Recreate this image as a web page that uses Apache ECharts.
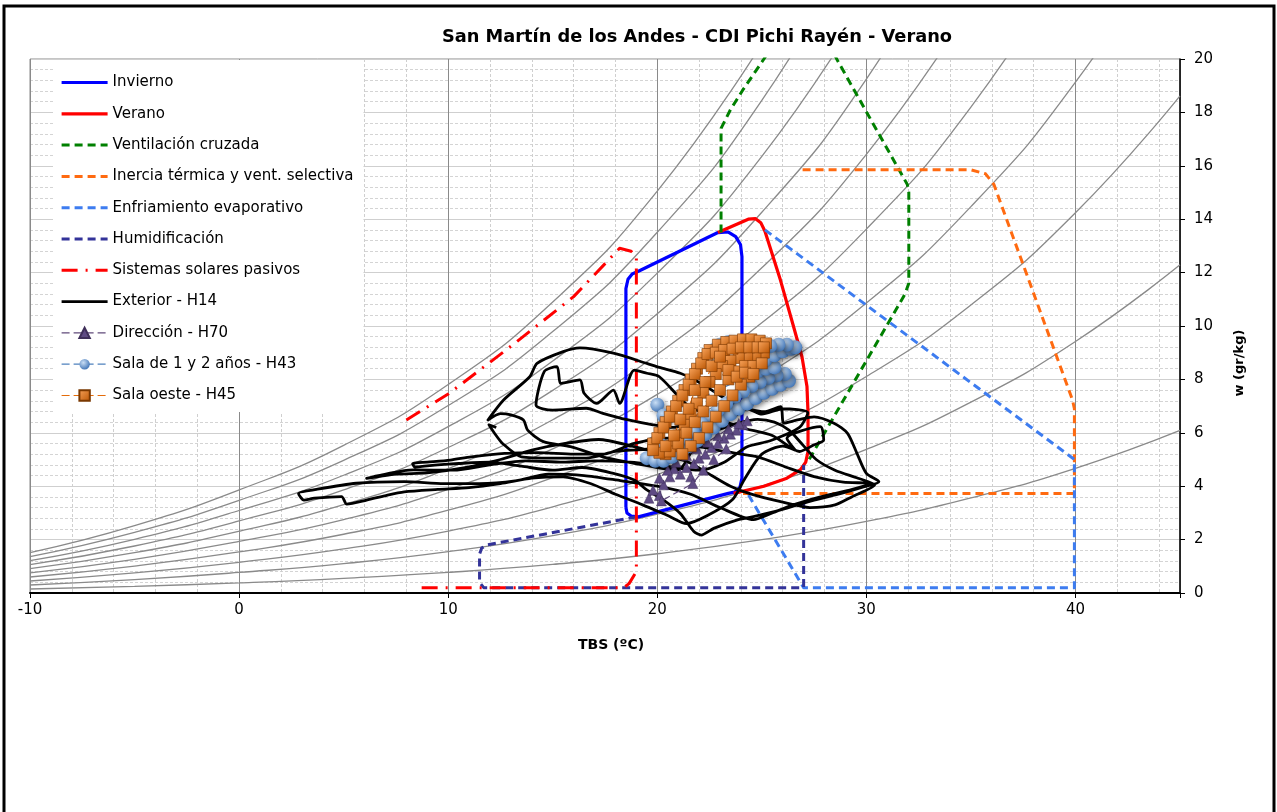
<!DOCTYPE html>
<html>
<head>
<meta charset="utf-8">
<script src="https://cdn.jsdelivr.net/npm/echarts@6/dist/echarts.min.js"></script>
<style>
  html, body { margin: 0; padding: 0; background: #fff; }
  #chart { width: 1277px; height: 812px; }
</style>
</head>
<body>
<div id="chart"></div>
<script>
// curvas de humedad relativa (10% ... 100%), w en gr/kg
const rhTemps = [-10, -5, 0, 5, 10, 15, 20, 25, 30, 35, 40, 45]
const rh10 = [0.15, 0.25, 0.38, 0.55, 0.77, 1.07, 1.47, 2.00, 2.68, 3.56, 4.67, 6.09]
const rh20 = [0.30, 0.50, 0.77, 1.10, 1.55, 2.15, 2.95, 4.01, 5.38, 7.15, 9.42, 12.29]
const rh30 = [0.45, 0.75, 1.15, 1.65, 2.32, 3.23, 4.44, 6.03, 8.11, 10.79, 14.24, 18.62]
const rh40 = [0.60, 1.01, 1.54, 2.20, 3.10, 4.32, 5.93, 8.07, 10.86, 14.47, 19.13, 25.08]
const rh50 = [0.75, 1.26, 1.93, 2.75, 3.88, 5.40, 7.44, 10.12, 13.63, 18.20, 24.09]
const rh60 = [0.91, 1.51, 2.31, 3.31, 4.66, 6.49, 8.94, 12.18, 16.43, 21.97]
const rh70 = [1.06, 1.76, 2.70, 3.86, 5.45, 7.59, 10.46, 14.26, 19.25, 25.78]
const rh80 = [1.21, 2.01, 3.09, 4.41, 6.23, 8.69, 11.98, 16.35, 22.10]
const rh90 = [1.36, 2.27, 3.47, 4.97, 7.02, 9.79, 13.51, 18.45, 24.97]
const rh100 = [1.51, 2.52, 3.86, 5.53, 7.81, 10.90, 15.05, 20.57]
const rhCurves = [rh10, rh20, rh30, rh40, rh50, rh60, rh70, rh80, rh90, rh100]

// zonas de confort y estrategias [TBS, w]
const invierno = [[18.5,3.2],[18.5,11.4],[18.6,11.75],[18.8,11.95],[19.1,12.05],[22.9,13.5],[23.4,13.52],[23.75,13.35],[23.98,13.05],[24.05,12.6],[24.05,4.3],[23.95,3.95],[23.7,3.78],[23.4,3.73],[19.1,2.85],[18.75,2.88],[18.55,3.0],[18.5,3.2]]
const verano = [[22.9,13.5],[24.35,14.0],[24.7,14.02],[24.95,13.87],[25.15,13.55],[25.89,11.72],[26.52,9.97],[26.92,8.85],[27.16,7.73],[27.21,6.73],[27.21,5.3],[27.1,4.9],[26.85,4.62],[26.2,4.3],[25.1,4.0],[23.65,3.73]]
const ventilacion = [[23.05,13.5],[23.05,17.4],[23.5,18.1],[24.1,18.85],[25.1,20],[25.9,21],[28,21],[28.58,20],[30.06,17.94],[31.96,15.3],[32.03,15.0],[32.03,11.6],[31.85,11.2],[27.16,4.86]]
const inercia = [[26.95,15.85],[35.0,15.85],[35.7,15.7],[36.1,15.3],[39.85,7.25],[39.95,6.9],[39.95,3.73],[24.1,3.73]]
const enfriamiento = [[25.15,13.6],[39.95,5.0],[39.95,0.2],[27.0,0.2],[24.3,3.75]]
const humidificacion = [[19.0,2.85],[11.85,1.8],[11.6,1.68],[11.5,1.45],[11.5,0.4],[11.7,0.2],[27.0,0.2],[27.0,4.8]]
const solares = [[8.0,6.48],[10.0,7.45],[13.1,9.3],[16.0,11.1],[18.2,12.91],[18.75,12.8],[19.0,12.6],[19.0,0.8],[18.65,0.35],[18.4,0.2],[8.4,0.2]]

// mediciones [TBS, w]
const exterior = [[22.0,5.5],[20.5,5.8],[18.9,5.6],[17.4,5.2],[16.0,5.2],[14.3,5.26],[12.7,5.23],[11.1,5.1],[10.1,4.98],[9.0,4.9],[8.3,4.85],[8.4,4.72],[9.5,4.8],[10.5,4.85],[12.0,4.9],[13.5,4.75],[15.0,4.6],[16.4,4.7],[17.9,4.48],[18.9,4.23],[19.5,3.86],[20.3,3.48],[21.1,2.98],[21.75,2.3],[22.1,2.17],[22.7,2.42],[23.8,2.73],[24.6,2.86],[25.9,3.11],[27.5,3.48],[28.8,3.73],[29.9,3.98],[30.6,4.17],[30.0,4.48],[29.55,5.23],[29.1,5.98],[28.45,6.36],[27.5,6.6],[26.7,6.48],[26.05,6.36],[25.9,6.98],[25.1,6.79],[24.0,6.98],[23.0,7.4],[22.1,7.85],[21.1,8.23],[20.1,8.45],[19.5,8.6],[17.9,8.98],[16.3,9.18],[15.5,9.04],[14.25,8.6],[13.9,8.1],[12.65,7.23],[11.9,6.48],[12.5,6.72],[13.0,6.67],[13.6,6.48],[13.8,6.1],[14.55,5.67],[15.85,5.48],[17.4,5.1],[18.6,4.9],[20.0,4.7],[21.0,4.6],[21.9,5.48],[23.2,5.3],[24.8,5.1],[26.2,4.7],[27.5,4.36],[28.9,4.15],[30.2,4.1],[29.2,3.85],[27.8,3.6],[26.5,3.3],[25.5,3.0],[24.6,2.75],[23.0,3.2],[21.6,3.7],[20.0,4.0],[18.3,4.2],[16.5,4.4],[14.8,4.45],[13.2,4.2],[11.5,4.1],[9.8,4.1],[7.9,4.17],[5.6,4.11],[3.7,3.88],[2.84,3.73],[3.1,3.48],[3.6,3.55],[4.9,3.61],[5.15,3.33],[6.1,3.48],[7.1,3.67],[7.9,3.79],[9.5,3.88],[11.0,3.95],[12.5,4.1],[14.0,4.3],[15.5,4.35],[16.8,4.1],[18.0,3.7],[19.3,3.3],[20.5,2.9],[21.4,2.6],[22.4,2.9],[23.6,3.5],[24.2,4.3],[25.0,5.2],[26.0,5.5],[26.6,5.35],[26.2,5.8],[27.8,6.23],[27.96,5.73],[27.5,5.55],[26.8,5.3],[25.5,5.9],[24.0,6.2],[22.7,6.6],[21.5,7.0],[20.1,8.1],[19.5,8.23],[18.9,8.35],[18.2,7.1],[17.9,7.6],[17.1,7.1],[16.5,7.48],[16.3,7.98],[15.4,7.85],[15.2,8.48],[14.6,8.3],[14.2,7.04],[15.0,6.85],[16.6,6.92],[17.4,6.73],[18.5,6.5],[19.8,6.3],[20.8,6.2],[21.6,6.4],[22.8,6.7],[23.5,6.55],[24.3,6.9],[25.0,6.7],[26.0,6.9],[27.2,6.75],[26.8,6.2],[25.4,5.7],[24.3,5.48],[23.2,4.9],[22.0,4.6],[20.4,4.75],[18.7,4.9],[17.0,4.95],[15.5,4.9],[13.7,4.95],[12.0,4.8],[10.25,4.6],[8.34,4.61],[6.6,4.39],[6.1,4.29],[7.5,4.45],[9.0,4.5],[10.8,4.7],[12.5,5.0],[14.0,5.35],[15.6,5.6],[17.2,5.75],[18.8,5.5],[20.2,5.2],[21.5,4.9],[22.6,4.4],[23.5,4.0],[24.5,3.7],[26.0,3.4],[27.3,3.2],[28.5,3.3],[29.3,3.6],[30.4,4.05],[29.6,4.3],[28.5,4.6],[27.6,5.0],[26.9,5.6],[26.3,6.1],[25.6,6.4],[24.8,6.5],[23.6,6.3],[22.5,6.0],[21.2,5.7],[19.6,5.4],[18.0,5.3],[16.6,5.05],[15.0,5.05],[13.5,5.1],[12.6,5.6],[12.2,6.0],[11.95,6.3],[12.3,6.2]]
const direccion = [[19.6,3.55],[19.8,3.85],[20.1,3.65],[20.3,4.05],[20.6,4.35],[20.8,4.65],[21.1,4.45],[21.4,4.7],[21.6,4.35],[21.75,4.85],[22.0,5.05],[22.3,5.2],[22.6,5.45],[22.9,5.6],[23.2,5.8],[23.5,5.95],[23.8,6.1],[24.1,6.3],[24.3,6.45],[23.9,6.35],[23.4,6.15],[22.9,5.9],[22.4,5.65],[21.9,5.4],[21.4,5.15],[20.9,4.9],[20.5,4.6],[20.1,4.3],[20.2,3.45],[21.7,4.1],[22.2,4.6],[22.7,5.0],[23.3,5.4]]
const sala12 = [[19.5,5.05],[19.9,4.95],[20.3,4.95],[20.7,5.1],[21.1,5.3],[21.5,5.5],[21.9,5.7],[22.3,5.95],[22.7,6.2],[23.1,6.45],[23.5,6.7],[23.9,6.9],[24.3,7.1],[24.7,7.3],[25.1,7.5],[25.5,7.65],[25.9,7.8],[26.3,7.95],[26.1,8.2],[25.7,8.15],[25.3,8.05],[24.9,7.9],[24.5,7.75],[24.1,7.55],[23.7,7.35],[23.3,7.1],[22.9,6.85],[22.5,6.6],[22.1,6.35],[21.7,6.05],[21.3,5.8],[20.9,5.55],[20.1,5.6],[20.4,6.6],[20.0,7.05],[20.3,6.65],[24.0,8.0],[24.4,8.2],[24.8,8.3],[25.2,8.4],[25.6,8.45],[24.4,8.5],[24.8,8.6],[25.2,8.75],[25.6,8.9],[26.0,9.05],[26.4,9.15],[26.6,9.2],[26.2,9.3],[25.8,9.3],[25.4,9.25],[25.0,9.2],[24.6,9.15],[24.2,9.2],[23.8,9.3],[23.4,9.4],[23.0,9.3],[22.8,9.15]]
const salaOeste = [[19.8,5.6],[20.1,6.0],[20.4,6.4],[20.7,6.8],[21.0,7.2],[21.3,7.6],[21.6,8.0],[21.9,8.4],[22.2,8.8],[22.5,9.1],[22.9,9.3],[23.3,9.4],[23.7,9.45],[24.1,9.5],[24.5,9.5],[24.9,9.45],[25.2,9.35],[25.1,9.0],[24.7,8.9],[24.3,8.85],[23.9,8.8],[23.5,8.7],[23.1,8.5],[22.8,8.2],[22.5,7.9],[22.2,7.5],[21.9,7.1],[21.6,6.7],[21.3,6.3],[21.0,5.9],[20.7,5.5],[20.4,5.2],[20.1,5.25],[19.8,5.35],[20.6,5.3],[21.0,5.6],[21.4,6.0],[21.8,6.4],[22.2,6.8],[22.6,7.2],[23.0,7.6],[23.4,8.0],[23.8,8.3],[24.2,8.5],[24.6,8.5],[25.0,8.6],[24.4,8.1],[24.0,7.8],[23.6,7.4],[23.2,7.0],[22.8,6.6],[22.4,6.2],[22.0,5.8],[21.6,5.5],[21.2,5.2],[20.0,5.8],[20.3,6.2],[20.6,6.6],[20.9,7.0],[21.2,7.4],[21.5,7.8],[21.8,8.2],[22.1,8.6],[22.4,8.95],[22.8,9.0],[23.2,9.1],[23.6,9.15],[24.0,9.2],[24.4,9.2],[24.8,9.2],[25.1,9.2],[20.4,5.5],[20.8,5.9],[21.1,6.5],[21.5,6.9],[21.8,7.6],[22.3,7.9],[22.6,8.5],[23.0,8.85],[23.4,8.35],[23.8,8.1],[24.2,8.25],[24.6,8.2]]

const font = 'DejaVu Sans, Verdana, sans-serif'
const chart = echarts.init(document.getElementById('chart'))

const zone = (name, data, color, type, width) => ({
  name, type: 'line', data, xAxisIndex: 1, yAxisIndex: 1,
  symbol: 'none', silent: true, z: 3,
  lineStyle: { color, width, type, join: 'round' },
  itemStyle: { color }
})

const series = []
rhCurves.forEach((c, i) => {
  series.push({
    name: 'hr' + (i + 1) * 10, type: 'line', xAxisIndex: 1, yAxisIndex: 1,
    data: c.map((w, j) => [rhTemps[j], w]),
    smooth: true, symbol: 'none', silent: true, z: 2,
    lineStyle: { color: '#8a8a8a', width: 1.3 }
  })
})
series.push(zone('Invierno', invierno, '#0000ff', 'solid', 3.2))
series.push(zone('Verano', verano, '#ff0000', 'solid', 3.2))
series.push(zone('Ventilación cruzada', ventilacion, '#008000', [8, 5], 3))
series.push(zone('Inercia térmica y vent. selectiva', inercia, '#ff6a10', [8, 5], 3))
series.push(zone('Enfriamiento evaporativo', enfriamiento, '#3d7cf0', [8, 5], 3))
series.push(zone('Humidificación', humidificacion, '#333399', [8, 5], 3))
series.push(zone('Sistemas solares pasivos', solares, '#ff0000', [16, 8, 2, 8], 3))
series.push({
  name: 'Exterior - H14', type: 'line', data: exterior, xAxisIndex: 1, yAxisIndex: 1,
  smooth: 0.25, symbol: 'none', z: 4,
  lineStyle: { color: '#000', width: 2.8, join: 'round' }, itemStyle: { color: '#000' }
})
series.push({
  name: 'Dirección - H70', type: 'line', data: direccion, xAxisIndex: 1, yAxisIndex: 1,
  symbol: 'triangle', symbolSize: 10, z: 5,
  lineStyle: { color: '#604a7b', width: 1.2, type: [8, 4] },
  itemStyle: { color: '#5f4b84', borderColor: '#3f2f5a', borderWidth: 0.5 }
})
series.push({
  name: 'Sala de 1 y 2 años - H43', type: 'line', data: sala12, xAxisIndex: 1, yAxisIndex: 1,
  symbol: 'circle', symbolSize: 14, z: 6,
  lineStyle: { color: '#4f81bd', width: 1.2, type: [8, 4] },
  itemStyle: {
    color: { type: 'radial', x: 0.38, y: 0.35, r: 0.7,
      colorStops: [{ offset: 0, color: '#c9def5' }, { offset: 1, color: '#3f73b5' }] },
    shadowBlur: 5, shadowColor: 'rgba(0,0,0,0.45)', shadowOffsetX: 2, shadowOffsetY: 2
  }
})
series.push({
  name: 'Sala oeste - H45', type: 'line', data: salaOeste, xAxisIndex: 1, yAxisIndex: 1,
  symbol: 'rect', symbolSize: 11, z: 7,
  lineStyle: { color: '#e46c0a', width: 1.2, type: [8, 4] },
  itemStyle: {
    color: { type: 'linear', x: 0, y: 0, x2: 1, y2: 1,
      colorStops: [{ offset: 0, color: '#f9a45c' }, { offset: 1, color: '#b85300' }] },
    borderColor: '#7a3800', borderWidth: 0.6
  }
})

const lineOnly = name => ({ name, itemStyle: { opacity: 0 } })

chart.setOption({
  animation: false,
  backgroundColor: '#fff',
  title: {
    text: 'San Martín de los Andes - CDI Pichi Rayén - Verano',
    left: 692, top: 23, textAlign: 'center',
    textStyle: { fontFamily: font, fontSize: 17.8, fontWeight: 'bold', color: '#000' }
  },
  grid: { left: 30, top: 59, width: 1150, height: 534, show: true, borderColor: '#8a8a8a', borderWidth: 1 },
  legend: {
    data: [lineOnly('Invierno'), lineOnly('Verano'), lineOnly('Ventilación cruzada'),
      lineOnly('Inercia térmica y vent. selectiva'), lineOnly('Enfriamiento evaporativo'),
      lineOnly('Humidificación'), lineOnly('Sistemas solares pasivos'), lineOnly('Exterior - H14'),
      'Dirección - H70', 'Sala de 1 y 2 años - H43', 'Sala oeste - H45'],
    orient: 'vertical', left: 53, top: 60, itemWidth: 46, itemHeight: 13, itemGap: 14.3,
    padding: [14, 10, 8, 7], backgroundColor: '#fff', selectedMode: false,
    lineStyle: { width: 'inherit' },
    textStyle: { fontFamily: font, fontSize: 15, lineHeight: 17, color: '#000' }
  },
  xAxis: [
    { type: 'value', min: -10, max: 45, interval: 2, axisLine: { show: false }, axisTick: { show: false },
      axisLabel: { show: false }, splitLine: { lineStyle: { color: '#cfcfcf', type: [3, 2] } } },
    { type: 'value', min: -10, max: 45, interval: 10, position: 'bottom',
      name: 'TBS (ºC)', nameLocation: 'middle', nameGap: 45,
      nameTextStyle: { fontFamily: font, fontSize: 14, fontWeight: 'bold', color: '#000', padding: [0, 0, 0, 12] },
      axisLine: { onZero: false, lineStyle: { color: '#000', width: 2 } },
      axisTick: { length: 5, lineStyle: { color: '#000' } },
      axisLabel: { fontFamily: font, fontSize: 15, color: '#000', margin: 10,
        formatter: v => (v === 45 ? '' : v) },
      splitLine: { lineStyle: { color: '#8a8a8a', width: 1 } } }
  ],
  yAxis: [
    { type: 'value', min: 0, max: 20, interval: 0.4, axisLine: { show: false }, axisTick: { show: false },
      axisLabel: { show: false }, splitLine: { lineStyle: { color: '#d4d4d4', type: [3, 2] } } },
    { type: 'value', min: 0, max: 20, interval: 2, position: 'right',
      axisLine: { show: true, onZero: false, lineStyle: { color: '#000', width: 1.5 } },
      axisTick: { show: true, length: 5, lineStyle: { color: '#000' } },
      axisLabel: { fontFamily: font, fontSize: 15, color: '#000', margin: 14 },
      splitLine: { lineStyle: { color: '#cfcfcf', width: 1 } } }
  ],
  graphic: [
    { type: 'text', x: 1240, y: 363, rotation: Math.PI / 2,
      style: { text: 'w (gr/kg)', fontFamily: font, fontSize: 13, fontWeight: 'bold', fill: '#000',
        align: 'center', verticalAlign: 'middle' } },
    { type: 'rect', shape: { x: 4, y: 6, width: 1270, height: 900 },
      style: { fill: 'none', stroke: '#000', lineWidth: 3 }, silent: true }
  ],
  series
})
</script>
</body>
</html>
